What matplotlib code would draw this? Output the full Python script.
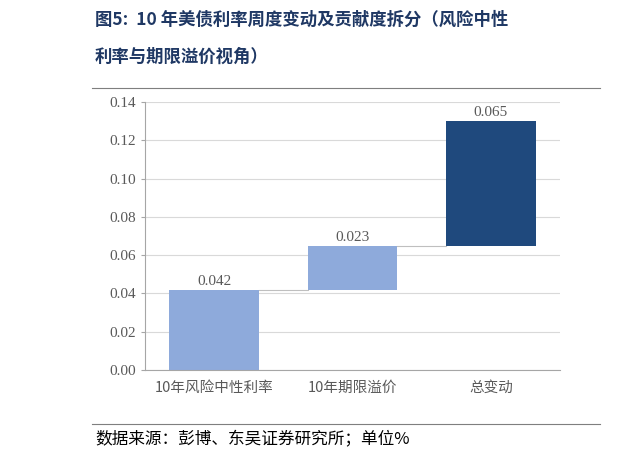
import matplotlib
matplotlib.use("Agg")
import matplotlib.pyplot as plt

categories = ["10年风险中性利率", "10年期限溢价", "总变动"]
bottoms = [0.0, 0.042, 0.065]
heights = [0.042, 0.023, 0.065]
labels = ["0.042", "0.023", "0.065"]
colors = ["#8eaadb", "#8eaadb", "#1f497d"]
yticks = [0.00, 0.02, 0.04, 0.06, 0.08, 0.10, 0.12, 0.14]

cjk = ["Noto Sans CJK SC", "DejaVu Sans"]
serif = ["Liberation Serif", "Noto Sans CJK SC"]

fig = plt.figure(figsize=(6.22, 4.62), dpi=100)
ax = fig.add_axes([145/622, 1-370/462, (560-145)/622, (370-102)/462])
x = range(len(categories))
ax.bar(x, heights, bottom=bottoms, width=0.65, color=colors)
for i in x:
    ax.text(i, bottoms[i]+heights[i]+0.001, labels[i], ha="center", va="bottom",
            fontsize=11, color="#595959", family=serif)
# connector lines
for i in range(len(categories)-1):
    yv = bottoms[i]+heights[i]
    ax.plot([i+0.325, i+1-0.325], [yv, yv], color="#bfbfbf", lw=0.8)
ax.set_ylim(0, 0.14)
ax.set_xlim(-0.5, 2.5)
ax.set_yticks(yticks)
ax.set_yticklabels([f"{v:.2f}" for v in yticks], family=serif, fontsize=11, color="#595959")
ax.set_xticks(list(x))
ax.set_xticklabels(categories, family=cjk, fontsize=10.5, color="#595959")
ax.yaxis.grid(True, color="#d9d9d9", lw=0.8)
ax.set_axisbelow(True)
for s in ["top", "right"]:
    ax.spines[s].set_visible(False)
ax.spines["left"].set_color("#a6a6a6")
ax.spines["bottom"].set_color("#a6a6a6")
ax.tick_params(axis="x", length=0, pad=8)
ax.tick_params(axis="y", length=3, color="#a6a6a6")

fig.text(95/622, 1-20/462, "图5:  10 年美债利率周度变动及贡献度拆分（风险中性", family=cjk,
         fontsize=12.5, fontweight="bold", color="#1f3864", va="center")
fig.text(95/622, 1-57/462, "利率与期限溢价视角）", family=cjk,
         fontsize=12.5, fontweight="bold", color="#1f3864", va="center")
fig.add_artist(plt.Line2D([92/622, 600/622], [1-88/462]*2, color="#7f7f7f", lw=0.8))
fig.add_artist(plt.Line2D([92/622, 600/622], [1-424/462]*2, color="#7f7f7f", lw=0.8))
fig.text(95/622, 1-440/462, "数据来源：彭博、东吴证券研究所；单位%", family=cjk,
         fontsize=12, color="#000000", va="center")
fig.savefig("out.png", dpi=100)
